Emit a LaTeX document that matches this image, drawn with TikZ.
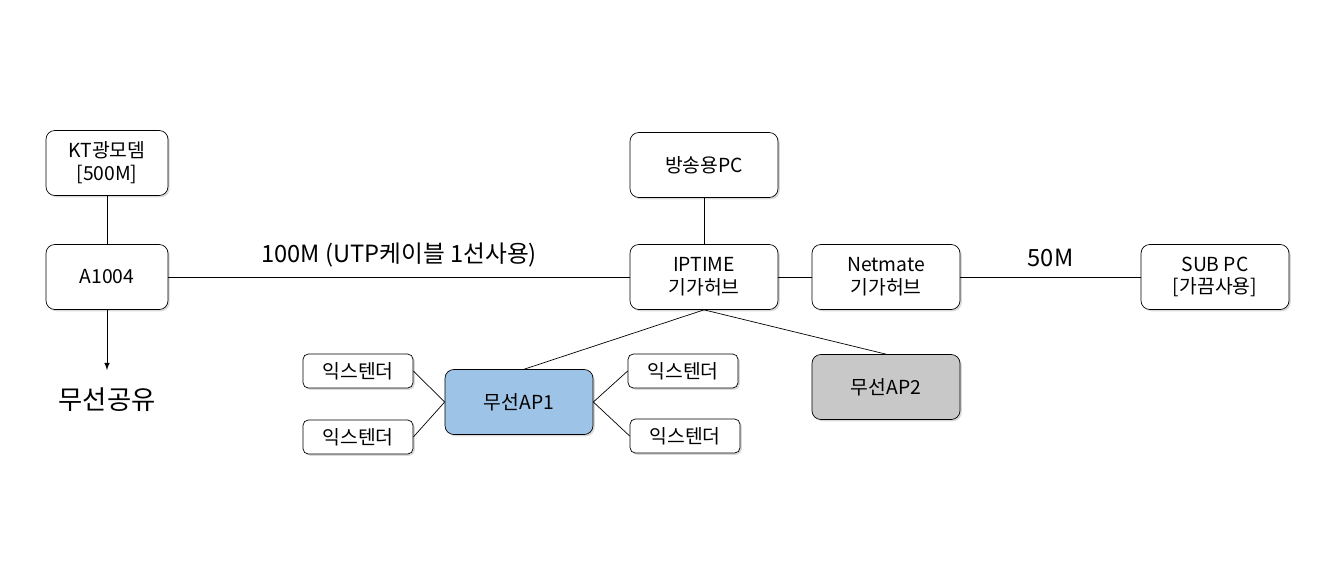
\documentclass[tikz,border=0pt]{standalone}
\usepackage{fontspec}
\setmainfont{Noto Sans CJK KR}
\usetikzlibrary{shadows}
\definecolor{apblue}{HTML}{9DC3E6}
\definecolor{apgray}{HTML}{C8C8C8}
\tikzstyle{box} = [draw=black, rounded corners=5pt, minimum width=2.96cm, minimum height=1.3cm, align=center, fill=white, drop shadow={shadow xshift=1pt, shadow yshift=-1pt, opacity=0.3}, font=\fontsize{11}{13}\selectfont]
\tikzstyle{ext} = [box, minimum width=2.2cm, minimum height=0.68cm, rounded corners=3pt]
\tikzstyle{wire} = [thin]
\begin{document}
\begin{tikzpicture}[x=0.02cm, y=-0.02cm]
		\useasboundingbox (0,0) rectangle (1331,572);
		\node (kt) [box, minimum width=2.44cm] at (107,163) {KT광모뎀\\{[500M]}};
		\node (a1004) [box, minimum width=2.44cm] at (107,277) {A1004};
		\node (share) at (107,400) {\fontsize{15}{17}\selectfont 무선공유};
		\node (pc) [box] at (704,165) {방송용PC};
		\node (iptime) [box] at (704,277) {IPTIME\\기가허브};
		\node (netmate) [box] at (886,277) {Netmate\\기가허브};
		\node (sub) [box] at (1215,277) {SUB PC\\{[가끔사용]}};
		\node (ap1) [box, fill=apblue] at (519,402) {무선AP1};
		\node (ap2) [box, fill=apgray] at (886,387) {무선AP2};
		\node (ex1) [ext] at (358,371) {익스텐더};
		\node (ex2) [ext] at (358,437) {익스텐더};
		\node (ex3) [ext] at (683,371) {익스텐더};
		\node (ex4) [ext] at (685,436) {익스텐더};
		\coordinate (tip) at (107,370);
		\draw [wire] (kt) -- (a1004);
		\draw [wire, -latex] (a1004) -- (tip);
		\draw [wire] (a1004) -- node [above, yshift=2pt, font=\fontsize{13.5}{15}\selectfont] {100M (UTP케이블 1선사용)} (iptime);
		\draw [wire] (pc) -- (iptime);
		\draw [wire] (iptime) -- (netmate);
		\draw [wire] (netmate) -- node [above, yshift=2pt, font=\fontsize{13.5}{15}\selectfont] {50M} (sub);
		\draw [wire] (iptime.south) -- ([xshift=3]ap1.north);
		\draw [wire] (iptime.south) -- (ap2.north);
		\draw [wire] (ex1.east) -- (ap1.west);
		\draw [wire] (ex2.east) -- (ap1.west);
		\draw [wire] (ex3.west) -- (ap1.east);
		\draw [wire] (ex4.west) -- (ap1.east);
\end{tikzpicture}
\end{document}
